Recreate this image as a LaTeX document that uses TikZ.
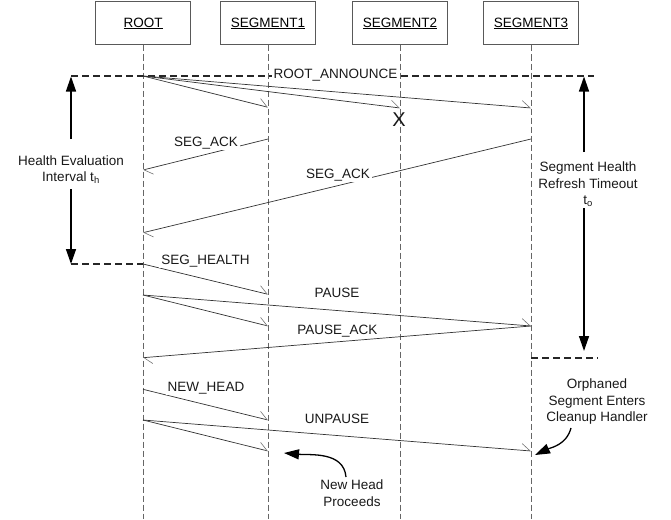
\documentclass[tikz,border=0pt]{standalone}
\usepackage{fontspec}
\setmainfont{Liberation Sans}
\usetikzlibrary{arrows.meta}
\begin{document}
\begin{tikzpicture}[x=1pt,y=-1pt,
  font=\fontsize{13.5}{16.5}\selectfont,
  obj/.style={draw=black!65, line width=1pt, fill=white, minimum width=95pt, minimum height=43pt, inner sep=0pt},
  life/.style={draw=black!60, line width=0.8pt, dash pattern=on 6pt off 3pt},
  msg/.style={draw=black!80, line width=0.7pt, -{Straight Barb[left, length=8.4pt, width=13.2pt, line width=0.6pt, color=black!55]}},
  lbl/.style={fill=white, inner xsep=2pt, inner ysep=1pt, anchor=base, text=black!90},
  note/.style={align=center, inner sep=0pt, text=black!90},
  framedash/.style={draw=black!85, line width=1.5pt, dash pattern=on 7pt off 4pt},
  spanline/.style={draw=black, line width=1.4pt, -{Triangle[length=15pt, width=10pt]}},
  curvearrow/.style={draw=black, line width=1.3pt, -{Triangle[length=15pt, width=10pt]}}
]
\useasboundingbox (0,0) rectangle (671,519);

% objects
\node[obj] (root) at (143,23.5) {\underline{ROOT}};
\node[obj] (seg1) at (268,23.5) {\underline{SEGMENT1}};
\node[obj] (seg2) at (400,23.5) {\underline{SEGMENT2}};
\node[obj] (seg3) at (531,23.5) {\underline{SEGMENT3}};

\coordinate (rootB) at (143,519);
\coordinate (seg1B) at (268,519);
\coordinate (seg2B) at (400,519);
\coordinate (seg3B) at (531,519);

\draw[life] (root.south) -- (rootB);
\draw[life] (seg1.south) -- (seg1B);
\draw[life] (seg2.south) -- (seg2B);
\draw[life] (seg3.south) -- (seg3B);

% frame dashed lines
\coordinate (fL) at (71,76);
\coordinate (fR) at (594,76);
\coordinate (fBL) at (71,264);
\coordinate (fBLr) at (143,264);
\coordinate (fBR) at (531,358);
\coordinate (fBRr) at (598,358);
\draw[framedash] (fL) -- (fR);
\draw[framedash] (fBL) -- (fBLr);
\draw[framedash] (fBR) -- (fBRr);

% vertical interval arrows
\coordinate (lTop) at (71,76.5);
\coordinate (lUp) at (71,139);
\coordinate (lDn) at (71,189);
\coordinate (lBot) at (71,264);
\draw[spanline] (lUp) -- (lTop);
\draw[spanline] (lDn) -- (lBot);
\node[note] (hei) at (71,169.5) {Health Evaluation\\Interval t\textsubscript{h}};

\coordinate (rTop) at (584,76.5);
\coordinate (rUp) at (584,152);
\coordinate (rDn) at (584,208);
\coordinate (rBot) at (584,351);
\draw[spanline] (rUp) -- (rTop);
\draw[spanline] (rDn) -- (rBot);
\node[note] (shr) at (588,184.5) {Segment Health\\Refresh Timeout\\t\textsubscript{o}};

% message points
\coordinate (ra0) at (143,76);
\coordinate (ra1) at (268,107.3);
\coordinate (ra2) at (400,108);
\coordinate (ra3) at (531,108);
\coordinate (sa1s) at (268,139);
\coordinate (sa1e) at (143,170);
\coordinate (sa2s) at (531,139);
\coordinate (sa2e) at (143,232.7);
\coordinate (shs) at (143,264);
\coordinate (she) at (268,294.3);
\coordinate (ps) at (143,295);
\coordinate (pe1) at (268,326);
\coordinate (pe3) at (531,326);
\coordinate (pae) at (143,357.7);
\coordinate (nhs) at (143,389.3);
\coordinate (nhe) at (268,420);
\coordinate (us) at (143,420);
\coordinate (ue1) at (268,451);
\coordinate (ue3) at (531,451);

\draw[msg] (ra0) -- (ra1);
\draw[msg] (ra0) -- (ra2);
\draw[msg] (ra0) -- (ra3);
\draw[msg] (sa1s) -- (sa1e);
\draw[msg] (sa2s) -- (sa2e);
\draw[msg] (shs) -- (she);
\draw[msg] (ps) -- (pe1);
\draw[msg] (ps) -- (pe3);
\draw[msg] (pe3) -- (pae);
\draw[msg] (nhs) -- (nhe);
\draw[msg] (us) -- (ue1);
\draw[msg] (us) -- (ue3);

% message labels
\node[lbl] (lra) at (335.5,78) {ROOT\_ANNOUNCE};
\node[lbl] (lsa1) at (206,146.7) {SEG\_ACK};
\node[lbl] (lsa2) at (338,178) {SEG\_ACK};
\node[lbl] (lsh) at (205.6,264.7) {SEG\_HEALTH};
\node[lbl] (lp) at (337,297) {PAUSE};
\node[lbl] (lpa) at (337.4,334.7) {PAUSE\_ACK};
\node[lbl] (lnh) at (206,391.4) {NEW\_HEAD};
\node[lbl] (lu) at (337,423) {UNPAUSE};

% lost message mark
\node[inner sep=0pt, font=\fontsize{20}{20}\selectfont, text=black!90] (xmark) at (399,119.5) {X};

% annotations
\node[note] (orph) at (597,402) {Orphaned\\Segment Enters\\Cleanup Handler};
\coordinate (oa0) at (571,428);
\coordinate (oa1) at (535,455);
\draw[curvearrow] (oa0) to[out=-105, in=25] (oa1);

\node[note] (nhp) at (352,493) {New Head\\Proceeds};
\coordinate (na0) at (346,477);
\coordinate (na1) at (284,453);
\draw[curvearrow] (na0) to[out=95, in=-5] (na1);
\end{tikzpicture}
\end{document}
